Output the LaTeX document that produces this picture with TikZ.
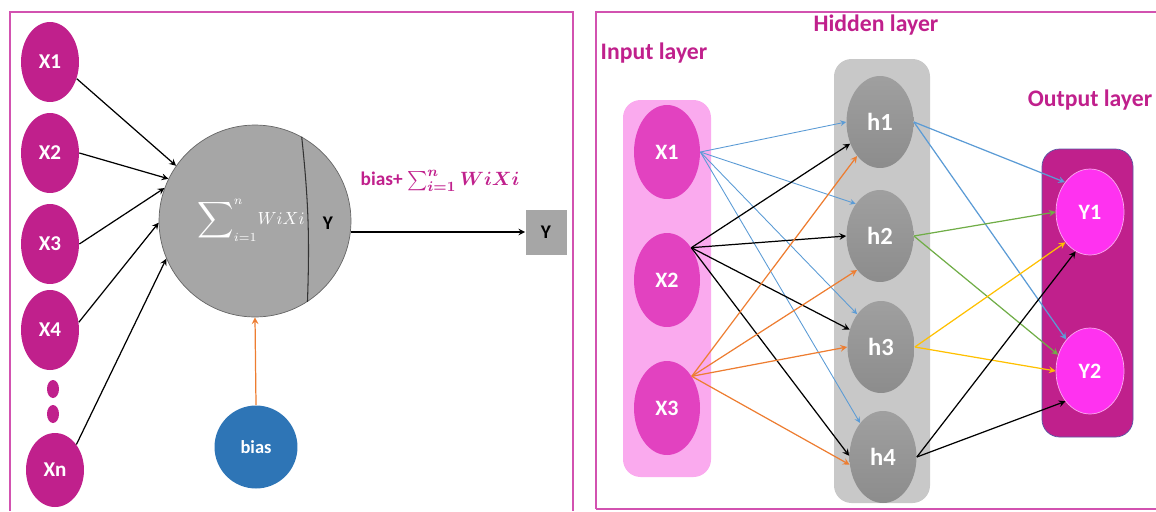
\documentclass[tikz,border=0pt]{standalone}
\usepackage{amsmath}
\usepackage{fontspec}
\setmainfont{Carlito}
\usetikzlibrary{shapes.geometric,arrows,positioning}
\definecolor{cFrame}{RGB}{210,82,176}
\definecolor{cMag}{RGB}{192,32,140}
\definecolor{cInBg}{RGB}{250,170,238}
\definecolor{cInNode}{RGB}{226,66,192}
\definecolor{cHidBg}{RGB}{200,200,200}
\definecolor{cOutNode}{RGB}{255,50,240}
\definecolor{cGreyN}{RGB}{166,166,166}
\definecolor{cBias}{RGB}{46,117,182}
\definecolor{cBlue}{RGB}{91,155,213}
\definecolor{cOrange}{RGB}{237,125,49}
\definecolor{cGreen}{RGB}{112,173,71}
\definecolor{cYellow}{RGB}{255,192,0}

\tikzset{
  xleft/.style={ellipse,fill=cMag,text=white,inner sep=0pt,
    minimum width=1.16cm,minimum height=1.6cm,font=\bfseries\fontsize{12}{14}\selectfont},
  xright/.style={ellipse,fill=cInNode,text=white,inner sep=0pt,
    minimum width=1.32cm,minimum height=1.88cm,font=\bfseries\fontsize{12.5}{14}\selectfont},
  hid/.style={ellipse,top color=gray!75,bottom color=gray!90,draw=none,text=white,inner sep=0pt,
    minimum width=1.34cm,minimum height=1.84cm,font=\bfseries\fontsize{14}{16}\selectfont},
  yout/.style={ellipse,fill=cOutNode,draw=cInBg,text=white,inner sep=0pt,
    minimum width=1.36cm,minimum height=1.72cm,font=\bfseries\fontsize{12.5}{14}\selectfont},
  layerlbl/.style={text=cMag,font=\bfseries\fontsize{13.5}{16}\selectfont},
  frame/.style={cFrame,line width=1.4pt},
  edge/.style={->,line width=0.7pt}
}

\begin{document}
\begin{tikzpicture}[x=0.02cm,y=-0.02cm,>=stealth]
  \useasboundingbox (0,0) rectangle (1156,511);
  % frames
  \draw[frame] (10,511) -- (10,12) -- (573,12) -- (573,511);
  \draw[frame] (596,509) -- (596,12) -- (1156,12);
  \draw[frame,line width=0.8pt] (596,509) -- (1156,509);

  % single neuron
  \node[xleft] (lx1) at (50,62) {X1};
  \node[xleft] (lx2) at (50,153) {X2};
  \node[xleft] (lx3) at (50,244) {X3};
  \node[xleft] (lx4) at (50,330) {X4};
  \node[ellipse,fill=cMag,minimum width=0.24cm,minimum height=0.36cm,inner sep=0pt] (dotA) at (53,389) {};
  \node[ellipse,fill=cMag,minimum width=0.24cm,minimum height=0.36cm,inner sep=0pt] (dotB) at (53,414) {};
  \node[xleft,minimum height=1.48cm] (lxn) at (55,470) {Xn};
  \node[circle,fill=cGreyN,draw=gray!80!black,minimum size=3.84cm,inner sep=0pt] (neuron) at (255,221) {};
  \draw[black!80,line width=0.6pt] (neuron.61) to[bend left=4] (neuron.-57);
  \node[text=white,font=\fontsize{10}{12}\selectfont] (sumtxt) at (251,220)
    {$\vcenter{\hbox{\fontsize{15}{17}\selectfont$\displaystyle\sum$}}^{n}_{i=1} WiXi$};
  \node[font=\bfseries\fontsize{11}{13}\selectfont] (ytxt) at (328,223) {Y};
  \node[fill=cGreyN,minimum width=0.82cm,minimum height=0.9cm,inner sep=0pt,
    font=\bfseries\fontsize{11}{13}\selectfont] (ybox) at (546,232) {Y};
  \node[text=cMag,font=\bfseries\boldmath\fontsize{11}{13}\selectfont] (formula) at (440,181) {bias+ $\sum_{i=1}^{n} WiXi$};
  \node[circle,fill=cBias,text=white,minimum size=1.66cm,inner sep=0pt,
    font=\bfseries\fontsize{10.5}{12}\selectfont] (bias) at (256,447) {bias};

  \draw[edge] (lx1.328) -- (neuron.145);
  \draw[edge] (lx2.east) -- (neuron.154);
  \draw[edge] (lx3.east) -- (neuron.160);
  \draw[edge] (lx4.15) -- (neuron.181);
  \draw[edge] (lxn.50) -- (neuron.203);
  \draw[edge] (neuron.east |- ybox.west) -- (ybox.west);
  \draw[->,cOrange,line width=0.7pt] (bias.north) -- (neuron.south);

  % network
  \fill[cInBg,rounded corners=10] (623,100) rectangle (711,477);
  \fill[cHidBg,rounded corners=10] (834,59) rectangle (930,503);
  \filldraw[fill=cMag,draw=blue!30!gray,line width=0.4pt,rounded corners=10] (1042,149) rectangle (1133,437);
  \node[layerlbl] (inlbl) at (654,53) {Input layer};
  \node[layerlbl] (hidlbl) at (876,25) {Hidden layer};
  \node[layerlbl] (outlbl) at (1090,100) {Output layer};

  \node[xright] (x1) at (667,152) {X1};
  \node[xright] (x2) at (667,280) {X2};
  \node[xright] (x3) at (667,408) {X3};
  \node[hid] (h1) at (880,122) {h1};
  \node[hid] (h2) at (880,236) {h2};
  \node[hid] (h3) at (881,347) {h3};
  \node[hid] (h4) at (883,457) {h4};
  \node[yout] (y1) at (1090,212) {Y1};
  \node[yout] (y2) at (1090,371) {Y2};

  \draw[edge,cBlue,line width=0.5pt] (x1.east) -- (h1.180);
  \draw[edge,cBlue,line width=0.5pt] (x1.east) -- (h2.127);
  \draw[edge,cBlue,line width=0.5pt] (x1.east) -- (h3.126);
  \draw[edge,cBlue,line width=0.5pt] (x1.east) -- (h4.124);
  \draw[edge] (x2.53) -- (h1.216);
  \draw[edge] (x2.53) -- (h2.180);
  \draw[edge] (x2.53) -- (h3.151);
  \draw[edge] (x2.53) -- (h4.178);
  \draw[edge,cOrange] (x3.52) -- (h1.236);
  \draw[edge,cOrange] (x3.52) -- (h2.236);
  \draw[edge,cOrange] (x3.52) -- (h3.180);
  \draw[edge,cOrange] (x3.52) -- (h4.193);
  \draw[edge,cBlue] (h1.east) -- (y1.130);
  \draw[edge,cBlue] (h1.east) -- (y2.127);
  \draw[edge,cGreen] (h2.east) -- (y1.180);
  \draw[edge,cGreen] (h2.east) -- (y2.153);
  \draw[edge,cYellow] (h3.east) -- (y1.231);
  \draw[edge,cYellow] (h3.east) -- (y2.180);
  \draw[edge] (h4.east) -- (y1.250);
  \draw[edge] (h4.east) -- (y2.231);
\end{tikzpicture}
\end{document}
